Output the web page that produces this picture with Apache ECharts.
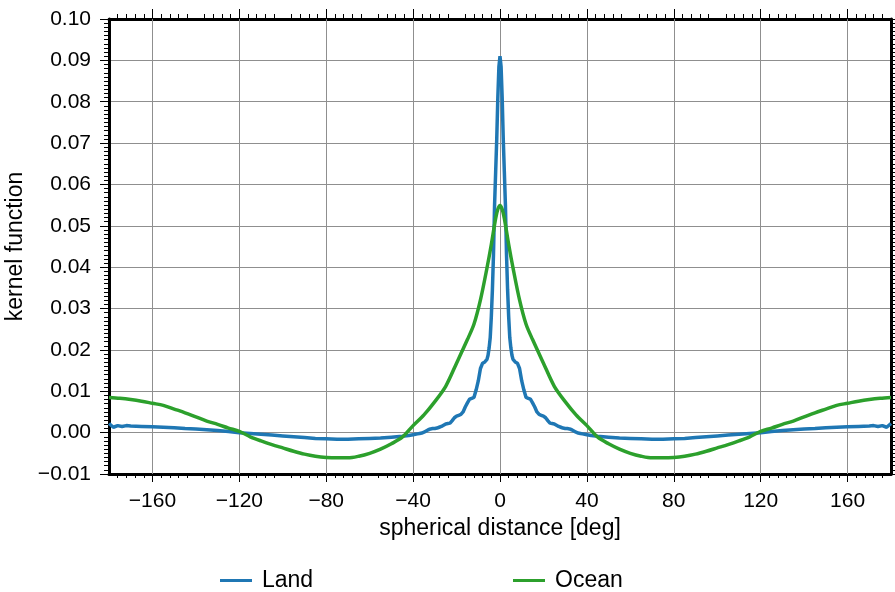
<!DOCTYPE html>
<html>
<head>
<meta charset="utf-8">
<script src="https://cdn.jsdelivr.net/npm/echarts@6/dist/echarts.min.js"></script>
<style>
  html, body { margin: 0; padding: 0; background: #fff; }
  #chart { width: 895px; height: 592px; }
</style>
</head>
<body>
<div id="chart"></div>
<script>
// values (degrees, kernel value)
var landDeg = [-180, -178, -176, -174, -172, -170, -165, -160, -155, -150, -145, -140, -135, -130, -125, -120,
  -115, -110, -105, -100, -95, -90, -85, -80, -75, -70, -65, -60, -55, -50, -45, -42, -40, -39, -38, -37, -36,
  -35, -34, -33, -32, -31, -30, -29, -28, -27, -26, -25, -24, -23, -22, -21, -20, -19, -18, -17, -16, -15, -14,
  -13, -12, -11, -10, -9, -8, -7, -6, -5.5, -5, -4.5, -4, -3.5, -3, -2.5, -2, -1.5, -1, -0.5,
  0, 0.5, 1, 1.5, 2, 2.5, 3, 3.5, 4, 4.5, 5, 5.5, 6, 7, 8, 9, 10, 11, 12, 13, 14, 15, 16, 17, 18, 19, 20,
  21, 22, 23, 24, 25, 26, 27, 28, 29, 30, 31, 32, 33, 34, 35, 36, 37, 38, 39, 40, 42, 45, 50, 55, 60, 65, 70,
  75, 80, 85, 90, 95, 100, 105, 110, 115, 120, 125, 130, 135, 140, 145, 150, 155, 160, 165, 170, 172, 174, 176,
  178, 180];
var landVal = [0.0022, 0.0013, 0.0017, 0.0015, 0.0017, 0.0016, 0.0015, 0.0014, 0.0013, 0.0012, 0.0010, 0.0009,
  0.0007, 0.0005, 0.0003, 0.0000, -0.0002, -0.0004, -0.0006, -0.0008, -0.0010, -0.0012, -0.0014, -0.0015,
  -0.0016, -0.0016, -0.0015, -0.0014, -0.0013, -0.0011, -0.0009, -0.0007, -0.0005, -0.0004, -0.0003, -0.0002,
  -0.0001, 0.0001, 0.0004, 0.0007, 0.0009, 0.0010, 0.0010, 0.0011, 0.0013, 0.0015, 0.0018, 0.0021, 0.0022,
  0.0023, 0.0029, 0.0036, 0.0040, 0.0042, 0.0044, 0.0050, 0.0062, 0.0072, 0.0081, 0.0083, 0.0085, 0.0103,
  0.0125, 0.0155, 0.0168, 0.0171, 0.0177, 0.0187, 0.0205, 0.0230, 0.0280, 0.0345, 0.0430, 0.0550, 0.0630,
  0.0710, 0.0810, 0.0885,
  0.0910, 0.0885, 0.0810, 0.0710, 0.0630, 0.0550, 0.0430, 0.0345, 0.0280, 0.0230, 0.0205, 0.0187, 0.0177,
  0.0171, 0.0168, 0.0155, 0.0125, 0.0103, 0.0085, 0.0083, 0.0081, 0.0072, 0.0062, 0.0050, 0.0044, 0.0042,
  0.0040, 0.0036, 0.0029, 0.0023, 0.0022, 0.0021, 0.0018, 0.0015, 0.0013, 0.0011, 0.0010, 0.0010, 0.0009,
  0.0007, 0.0004, 0.0001, -0.0001, -0.0002, -0.0003, -0.0004, -0.0005, -0.0007, -0.0009, -0.0011, -0.0013,
  -0.0014, -0.0015, -0.0016, -0.0016, -0.0015, -0.0014, -0.0012, -0.0010, -0.0008, -0.0006, -0.0004, -0.0002,
  0.0000, 0.0003, 0.0005, 0.0007, 0.0009, 0.0010, 0.0012, 0.0013, 0.0014, 0.0015, 0.0016, 0.0017, 0.0015,
  0.0017, 0.0013, 0.0022];

var oceanDeg = [-180, -175, -170, -165, -160, -155, -150, -145, -140, -135, -130, -125, -120, -115, -110, -105,
  -100, -95, -90, -85, -80, -75, -70, -65, -60, -55, -50, -45, -40, -35, -30, -25, -20, -15, -12, -9, -6, -4,
  -2, -1, 0, 1, 2, 4, 6, 9, 12, 15, 20, 25, 30, 35, 40, 45, 50, 55, 60, 65, 70, 75, 80, 85, 90, 95, 100, 105,
  110, 115, 120, 125, 130, 135, 140, 145, 150, 155, 160, 165, 170, 175, 180];
var oceanVal = [0.0085, 0.0083, 0.0080, 0.0076, 0.0071, 0.0066, 0.0057, 0.0048, 0.0038, 0.0028, 0.0020, 0.0011,
  0.0003, -0.0010, -0.0020, -0.0029, -0.0037, -0.0045, -0.0052, -0.0057, -0.0060, -0.0061, -0.0061, -0.0057,
  -0.0050, -0.0040, -0.0027, -0.0011, 0.0017, 0.0043, 0.0075, 0.0112, 0.0168, 0.0225, 0.0262, 0.0321, 0.0398,
  0.0455, 0.0518, 0.0540, 0.0549, 0.0540, 0.0518, 0.0455, 0.0398, 0.0321, 0.0262, 0.0225, 0.0168, 0.0112,
  0.0075, 0.0043, 0.0017, -0.0011, -0.0027, -0.0040, -0.0050, -0.0057, -0.0061, -0.0061, -0.0060, -0.0057,
  -0.0052, -0.0045, -0.0037, -0.0029, -0.0020, -0.0010, 0.0003, 0.0011, 0.0020, 0.0028, 0.0038, 0.0048,
  0.0057, 0.0066, 0.0071, 0.0076, 0.0080, 0.0083, 0.0085];

var xTicks = [-160, -120, -80, -40, 0, 40, 80, 120, 160];

var FONT = "'Liberation Sans', Helvetica, Arial, sans-serif";
var GRID_COLOR = '#8f8f8f';

function pairs(xs, ys) {
  var out = [];
  for (var i = 0; i < xs.length; i++) out.push([xs[i], ys[i]]);
  return out;
}

function fmtX(v) {
  return v < 0 ? '\u2212' + Math.abs(v) : String(v);
}
function fmtY(v) {
  var r = Math.round(v * 100);
  return (r < 0 ? '\u2212' : '') + (Math.abs(r) / 100).toFixed(2);
}

var frameLine = { show: true, onZero: false, lineStyle: { color: '#000', width: 3 } };
var tickLine = { color: '#000', width: 1 };
var legendText = { fontSize: 23, color: '#000', fontFamily: FONT, padding: [0, 0, 0, 5] };

var chart = echarts.init(document.getElementById('chart'));

var option = {
  animation: false,
  textStyle: { fontFamily: FONT },
  grid: { left: 109, top: 19, width: 782, height: 455, containLabel: false, outerBoundsMode: 'none' },
  legend: [
    {
      data: ['Land'], left: 220, top: 569, padding: 0, icon: 'rect', itemWidth: 32, itemHeight: 3,
      textStyle: legendText
    },
    {
      data: ['Ocean'], left: 513, top: 569, padding: 0, icon: 'rect', itemWidth: 32, itemHeight: 3,
      textStyle: legendText
    }
  ],
  xAxis: [
    {
      type: 'value', min: -180, max: 180, interval: 20, position: 'bottom',
      axisLine: frameLine,
      axisTick: { show: true, length: 8, customValues: xTicks, lineStyle: tickLine },
      minorTick: { show: true, splitNumber: 5, length: 4, lineStyle: tickLine },
      axisLabel: { customValues: xTicks, formatter: fmtX, fontSize: 21, color: '#000', margin: 17, fontFamily: FONT },
      splitLine: { show: false },
      name: 'spherical distance [deg]', nameLocation: 'middle', nameGap: 40,
      nameTextStyle: { fontSize: 23, color: '#000', fontFamily: FONT }
    },
    {
      type: 'value', min: -180, max: 180, interval: 20, position: 'top',
      axisLine: frameLine,
      axisTick: { show: true, length: 10, customValues: xTicks, lineStyle: tickLine },
      minorTick: { show: true, splitNumber: 5, length: 5, lineStyle: tickLine },
      axisLabel: { show: false },
      splitLine: { show: false }
    }
  ],
  yAxis: [
    {
      type: 'value', min: -0.01, max: 0.1, interval: 0.01, position: 'left',
      axisLine: frameLine,
      axisTick: { show: true, length: 9, lineStyle: tickLine },
      minorTick: { show: true, splitNumber: 10, length: 5, lineStyle: tickLine },
      axisLabel: { formatter: fmtY, fontSize: 21, color: '#000', margin: 18, fontFamily: FONT },
      splitLine: { show: true, lineStyle: { color: GRID_COLOR, width: 1 } },
      name: 'kernel function', nameLocation: 'middle', nameGap: 73,
      nameTextStyle: { fontSize: 23, color: '#000', fontFamily: FONT }
    },
    {
      type: 'value', min: -0.01, max: 0.1, interval: 0.01, position: 'right',
      axisLine: frameLine,
      axisTick: { show: true, length: 4, lineStyle: tickLine },
      minorTick: { show: true, splitNumber: 10, length: 4, lineStyle: tickLine },
      axisLabel: { show: false },
      splitLine: { show: false }
    }
  ],
  series: [
    {
      // vertical grid lines at the annotated longitudes
      name: 'grid', type: 'line', data: [], z: 1, silent: true,
      markLine: {
        silent: true, symbol: ['none', 'none'], z: 1, animation: false,
        label: { show: false },
        lineStyle: { color: GRID_COLOR, width: 1, type: 'solid' },
        data: xTicks.map(function (v) { return { xAxis: v }; })
      }
    },
    {
      name: 'Land', type: 'line', xAxisIndex: 0, yAxisIndex: 0,
      data: pairs(landDeg, landVal),
      showSymbol: false, smooth: false, z: 3,
      color: '#1f77b4',
      lineStyle: { color: '#1f77b4', width: 3.5 }
    },
    {
      name: 'Ocean', type: 'line', xAxisIndex: 0, yAxisIndex: 0,
      data: pairs(oceanDeg, oceanVal),
      showSymbol: false, smooth: 0.3, z: 4,
      color: '#2ca02c',
      lineStyle: { color: '#2ca02c', width: 3.5 }
    }
  ]
};

chart.setOption(option);
</script>
</body>
</html>
